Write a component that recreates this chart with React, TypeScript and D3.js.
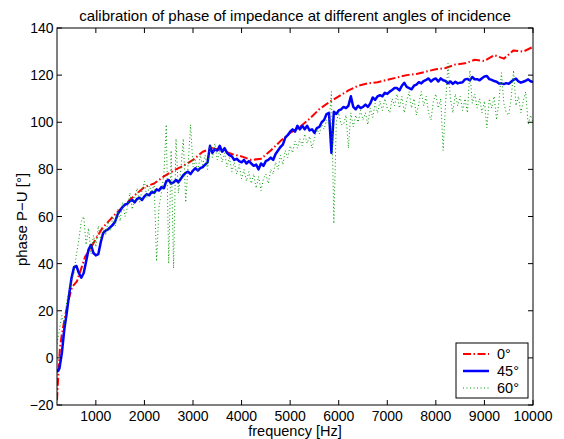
import React from 'react';
import * as d3 from 'd3';

// ---------- data ----------
const xTicks = [1000, 2000, 3000, 4000, 5000, 6000, 7000, 8000, 9000, 10000];
const yTicks = [-20, 0, 20, 40, 60, 80, 100, 120, 140];

const seriesNames = ['0°', '45°', '60°'];

const redFreq = [200, 220, 260, 300, 360, 430, 510, 610, 700, 780, 880, 1000, 1130, ...d3.range(1400, 10001, 200)];
const redPhase = [
  -18, -10, 4, 10, 17, 24, 30, 32.5, 38, 43, 46, 50.5, 55,
  61, 65, 69, 72.5, 74, 77, 79.5, 81.5, 84, 87.5,
  89, 88, 86.5, 85.5, 84, 84.5, 88, 92, 95.5, 98,
  101.5, 105.5, 108.5, 111, 113.5, 115.5, 116.5, 117, 118, 119,
  120, 120.5, 121.5, 122.5, 123, 124.5, 125, 126.5, 126, 128.5,
  127, 130.5, 130, 132,
];

const denseFreq = d3.range(200, 10001, 50);

const bluePhase = [
  -6, -4.5, 2, 12, 19, 27, 34, 38.5, 39, 36, 34, 36, 41, 46, 48, 44.5, 43.5, 44, 49, 53,
  54, 54.5, 55.5, 56.5, 58, 61, 62.5, 64, 65, 65.5, 66.5, 67, 66, 67.5, 68, 67, 68.5, 69.5, 69, 70.5,
  70, 71.5, 71, 72.5, 72, 75, 75.5, 74, 74.5, 75.5, 74.5, 76, 77.5, 78.5, 79, 78, 79.5, 80.5, 79.5, 80.5,
  81, 82, 83, 90, 87, 88.5, 88, 90, 87.5, 89, 87, 86, 85.5, 84, 84.5, 83.5, 83, 84, 82.5, 83.5,
  82.5, 81.5, 82, 80, 82.5, 81.5, 83.5, 84, 85, 84, 86.5, 88, 89.5, 90.5, 93.5, 94.5, 96, 97, 96, 98.5,
  97, 98.5, 97, 98.5, 96.5, 97, 95.5, 97.5, 98, 100, 101, 103.5, 104, 87, 104.5, 103.5, 105, 105.5, 106.5, 106,
  107, 111, 106.5, 105.5, 107, 106, 106.5, 107.5, 106.5, 108, 110.5, 109.5, 111, 111.5, 111, 112.5, 112, 113, 113.7, 114.5,
  114.5, 113.5, 115.5, 116.7, 115, 114.5, 114, 115.5, 116, 117, 116.5, 117.5, 118, 118.6, 117.3, 118.2, 118.6, 117.3, 118.6, 117.8,
  117.5, 116.5, 117.3, 116.3, 117.2, 116.5, 116.8, 117, 118.2, 118.4, 117.8, 119.2, 118.2, 118.3, 117.8, 118.7, 119.4, 119.6, 118.3, 118,
  117.5, 117.2, 116.4, 116.5, 116.2, 116.6, 116.3, 117.2, 118, 118.5, 117.3, 116.8, 117.2, 117.6, 118.2, 117.4, 117,
];

const greenPhase = [
  6, 12, 18, 14, 24, 28, 33, 36, 44, 50, 58, 60, 48, 55, 44, 52, 47, 56, 50, 55,
  52, 58, 54, 60, 56, 63, 58, 66, 60, 64, 70, 63, 68, 72, 66, 71, 75, 68, 73, 70,
  74, 41, 64, 70, 78, 99, 40, 88, 38, 93, 70, 80, 93, 66, 82, 99, 81, 84, 79, 86,
  82, 86, 80, 90, 85, 91, 84, 88, 83, 87, 81, 85, 79, 83, 78, 82, 76, 80, 75, 79,
  74, 78, 72, 77, 71, 76, 78, 74, 80, 78, 83, 80, 86, 82, 88, 85, 90, 87, 92, 89,
  93, 90, 95, 91, 94, 89, 93, 97, 95, 99, 97, 101, 99, 113, 57, 100, 104, 99, 99, 103,
  89, 104, 98, 103, 100, 105, 101, 104, 99, 106, 102, 108, 104, 109, 105, 110, 106, 104, 110, 107,
  112, 106, 111, 104, 109, 113, 106, 110, 103, 108, 113, 107, 111, 104, 101, 109, 112, 106, 110, 88,
  108, 125, 110, 104, 112, 107, 111, 105, 110, 104, 122, 108, 112, 106, 110, 104, 109, 97.6, 110, 106,
  111, 101, 109, 121, 108, 104, 103, 110, 122, 107, 111, 104, 109, 113, 99, 103, 100,
];

// ---------- layout ----------
const W = 564;
const H = 439;
const M = { left: 57, right: 533, top: 28, bottom: 405 };
const FONT = '"Liberation Sans", Arial, Helvetica, sans-serif';

export default function App() {
  const x = d3.scaleLinear().domain([200, 10000]).range([M.left, M.right]);
  const y = d3.scaleLinear().domain([-20, 140]).range([M.bottom, M.top]);

  const line = d3
    .line<[number, number]>()
    .x((d) => x(d[0]))
    .y((d) => y(d[1]));

  const red = redFreq.map((f, i) => [f, redPhase[i]] as [number, number]);
  const blue = denseFreq.map((f, i) => [f, bluePhase[i]] as [number, number]).filter((d) => d[1] !== undefined);
  const green = denseFreq.map((f, i) => [f, greenPhase[i]] as [number, number]).filter((d) => d[1] !== undefined);

  const styles = [
    { stroke: '#ff0000', width: 2, dash: '8,2.5,1.5,2.5' },
    { stroke: '#0000ff', width: 2.5, dash: undefined as string | undefined },
    { stroke: '#009900', width: 1, dash: '1,2.5' },
  ];
  const data = [red, blue, green];

  const legend = { x0: 456, y0: 343, w: 72, h: 55 };
  const rowY = [354, 371, 388];

  return (
    <svg
      width={W}
      height={H}
      style={{ position: 'absolute', left: 0, top: 0, background: '#fff' }}
      fontFamily={FONT}
    >
      <rect x={0} y={0} width={W} height={H} fill="#fff" />
      <defs>
        <clipPath id="plotClip">
          <rect x={M.left} y={M.top} width={M.right - M.left} height={M.bottom - M.top} />
        </clipPath>
      </defs>
      <rect x={M.left} y={M.top} width={M.right - M.left} height={M.bottom - M.top} fill="#fff" />

      <g clipPath="url(#plotClip)">
        {data.map((d, i) => (
          <path
            key={i}
            d={line(d) || ''}
            fill="none"
            stroke={styles[i].stroke}
            strokeWidth={styles[i].width}
            strokeDasharray={styles[i].dash}
            strokeLinejoin="round"
          />
        ))}
      </g>

      {/* frame */}
      <rect
        x={M.left}
        y={M.top}
        width={M.right - M.left}
        height={M.bottom - M.top}
        fill="none"
        stroke="#000"
        strokeWidth={1}
      />

      {/* x ticks */}
      {xTicks.map((t) => (
        <g key={'x' + t}>
          <line x1={x(t)} x2={x(t)} y1={M.bottom} y2={M.bottom - 5} stroke="#000" />
          <line x1={x(t)} x2={x(t)} y1={M.top} y2={M.top + 5} stroke="#000" />
          <text x={x(t)} y={420.5} textAnchor="middle" fontSize={14} fill="#000">
            {t}
          </text>
        </g>
      ))}

      {/* y ticks */}
      {yTicks.map((t) => (
        <g key={'y' + t}>
          <line x1={M.left} x2={M.left + 5} y1={y(t)} y2={y(t)} stroke="#000" />
          <line x1={M.right} x2={M.right - 5} y1={y(t)} y2={y(t)} stroke="#000" />
          <text x={53.5} y={y(t) + 5} textAnchor="end" fontSize={14} fill="#000">
            {t < 0 ? '\u2212' + Math.abs(t) : t}
          </text>
        </g>
      ))}

      {/* title & labels */}
      <text x={(M.left + M.right) / 2} y={21} textAnchor="middle" fontSize={15} fill="#000">
        calibration of phase of impedance at different angles of incidence
      </text>
      <text x={(M.left + M.right) / 2} y={435.5} textAnchor="middle" fontSize={14.5} fill="#000">
        frequency [Hz]
      </text>
      <text
        transform={`translate(27, ${(M.top + M.bottom) / 2 + 3}) rotate(-90)`}
        textAnchor="middle"
        fontSize={15}
        fill="#000"
      >
        phase P−U [°]
      </text>

      {/* legend */}
      <rect x={legend.x0} y={legend.y0} width={legend.w} height={legend.h} fill="#fff" stroke="#000" />
      {seriesNames.map((n, i) => (
        <g key={n}>
          <line
            x1={463}
            x2={489}
            y1={rowY[i]}
            y2={rowY[i]}
            stroke={styles[i].stroke}
            strokeWidth={styles[i].width}
            strokeDasharray={styles[i].dash}
          />
          <text x={497} y={rowY[i] + 5} fontSize={14.5} fill="#000">
            {n}
          </text>
        </g>
      ))}
    </svg>
  );
}
